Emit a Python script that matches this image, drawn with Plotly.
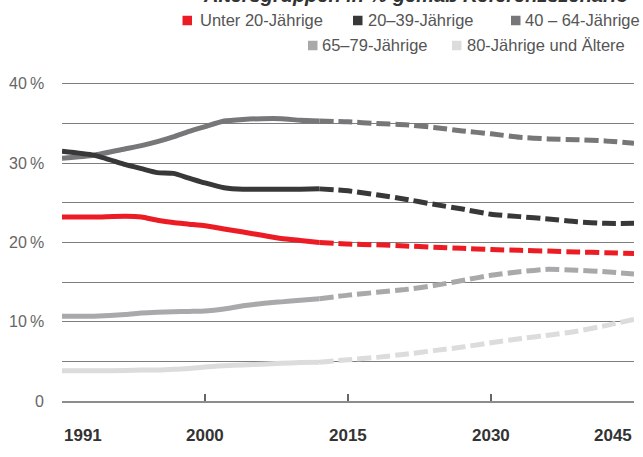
import numpy as np
import plotly.graph_objects as go

# ---- data -------------------------------------------------------------
tick_years = [1991, 2000, 2015, 2030, 2045]
tick_labels = ["1991", "2000", "2015", "2030", "2045"]

hist_years = [1991, 1993, 1995, 1996, 1997, 1998, 1999, 2000, 2002, 2004, 2006, 2008, 2010, 2012]
under20_hist = [23.2, 23.2, 23.3, 23.2, 22.8, 22.5, 22.3, 22.1, 21.7, 21.3, 20.9, 20.5, 20.25, 20.0]
age20_39_hist = [31.5, 31.0, 29.8, 29.3, 28.8, 28.7, 28.1, 27.5, 26.9, 26.7, 26.7, 26.7, 26.7, 26.75]
age40_64_hist = [30.6, 31.0, 31.8, 32.2, 32.7, 33.3, 34.0, 34.6, 35.3, 35.5, 35.6, 35.6, 35.4, 35.3]
age65_79_hist = [10.7, 10.7, 10.9, 11.1, 11.2, 11.25, 11.3, 11.35, 11.6, 12.0, 12.3, 12.5, 12.7, 12.9]
age80_hist = [3.8, 3.8, 3.85, 3.9, 3.9, 4.0, 4.1, 4.3, 4.45, 4.55, 4.65, 4.75, 4.85, 4.9]

proj_years = [2012, 2015, 2018, 2021, 2024, 2027, 2030, 2033, 2036, 2039, 2042, 2045]
under20_proj = [20.0, 19.8, 19.7, 19.55, 19.4, 19.25, 19.1, 19.0, 18.9, 18.8, 18.7, 18.6]
age20_39_proj = [26.75, 26.5, 26.0, 25.45, 24.8, 24.2, 23.55, 23.25, 22.95, 22.6, 22.4, 22.4]
age40_64_proj = [35.3, 35.2, 35.0, 34.85, 34.5, 34.05, 33.7, 33.25, 33.05, 32.95, 32.8, 32.5]
age65_79_proj = [12.9, 13.35, 13.7, 14.05, 14.55, 15.2, 15.85, 16.3, 16.6, 16.5, 16.3, 16.0]
age80_proj = [4.9, 5.2, 5.5, 5.9, 6.35, 6.8, 7.35, 7.85, 8.3, 8.8, 9.5, 10.3]

series_names = ["80-Jährige und Ältere", "65–79-Jährige", "40 – 64-Jährige",
                "20–39-Jährige", "Unter 20-Jährige"]
series_hist = [age80_hist, age65_79_hist, age40_64_hist, age20_39_hist, under20_hist]
series_proj = [age80_proj, age65_79_proj, age40_64_proj, age20_39_proj, under20_proj]
series_colors = ["#dcdcdc", "#a9a9ab", "#777779", "#383838", "#ec1c24"]

y_labels = {0: "0", 10: "10\u202f%", 20: "20\u202f%", 30: "30\u202f%", 40: "40\u202f%"}

# ---- layout geometry ----------------------------------------------------
W, H = 643, 457
ML, MR, MT, MB = 62, 9, 70, 56
PW, PH = W - ML - MR, H - MT - MB
Y_TOP = 41.74  # value at the top edge of the plot area

FONT = "Liberation Sans, Arial, sans-serif"


def px_x(px):
    return (px - ML) / PW


def px_y(py):
    return (H - MB - py) / PH


# The time axis gives every labelled interval the same width,
# so years are placed piecewise-linearly between the labelled ticks.
tick_pos = list(range(len(tick_years)))


def axis_pos(years):
    return np.interp(years, tick_years, tick_pos)


fig = go.Figure()

for name, hist, proj, color in zip(series_names, series_hist, series_proj, series_colors):
    fig.add_trace(go.Scatter(
        x=axis_pos(hist_years), y=hist, mode="lines", name=name,
        line=dict(color=color, width=5, shape="spline", smoothing=0.5),
        showlegend=False, hoverinfo="skip"))
    fig.add_trace(go.Scatter(
        x=axis_pos(proj_years), y=proj, mode="lines", name=name,
        line=dict(color=color, width=5, dash="14px,5px", shape="spline", smoothing=0.5),
        showlegend=False, hoverinfo="skip"))

annotations = []
shapes = []

# y-axis labels
for v, txt in y_labels.items():
    annotations.append(dict(
        x=px_x(46), xref="paper", y=v, yref="y", text=txt, showarrow=False,
        xanchor="right", yanchor="middle",
        font=dict(family=FONT, size=16, color="#666666")))

# x-axis labels: first left-aligned, last right-aligned, others centred
for i, (yr, lab) in enumerate(zip(tick_years, tick_labels)):
    anchor = "left" if i == 0 else ("right" if i == len(tick_years) - 1 else "center")
    annotations.append(dict(
        x=float(axis_pos(yr)), xref="x", y=px_y(435), yref="paper", text=f"<b>{lab}</b>",
        showarrow=False, xanchor=anchor, yanchor="middle",
        font=dict(family=FONT, size=17, color="#333333")))

# title (runs past the top edge of the page)
annotations.append(dict(
    x=px_x(631), xref="paper", y=px_y(8), yref="paper",
    text="<b><i>Altersgruppen in % gemäß Referenzszenario</i></b>",
    showarrow=False, xanchor="right", yanchor="bottom",
    font=dict(family=FONT, size=20, color="#333333")))

# legend: coloured squares with labels, two rows
legend_items = [
    ("Unter 20-Jährige", "#ec1c24", 182.5, 198, 20.5),
    ("20–39-Jährige", "#383838", 353, 366, 20.5),
    ("40 – 64-Jährige", "#777779", 511, 523, 20.5),
    ("65–79-Jährige", "#a9a9ab", 308, 320, 45.5),
    ("80-Jährige und Ältere", "#dcdcdc", 452, 465, 45.5),
]
for label, color, sq_x, tx_x, cy in legend_items:
    shapes.append(dict(
        type="rect", xref="paper", yref="paper",
        x0=px_x(sq_x), x1=px_x(sq_x + 9.5), y0=px_y(cy + 4.75), y1=px_y(cy - 4.75),
        fillcolor=color, line=dict(width=0), layer="above"))
    annotations.append(dict(
        x=px_x(tx_x), xref="paper", y=px_y(cy), yref="paper", text=label,
        showarrow=False, xanchor="left", yanchor="middle",
        font=dict(family=FONT, size=16.5, color="#555555")))

fig.update_layout(
    width=W, height=H,
    margin=dict(l=ML, r=MR, t=MT, b=MB, pad=0),
    paper_bgcolor="white", plot_bgcolor="white",
    showlegend=False,
    annotations=annotations,
    shapes=shapes,
    xaxis=dict(
        range=[0, len(tick_years) - 1], tickvals=tick_pos, showticklabels=False,
        ticks="inside", ticklen=7, tickwidth=1.5, tickcolor="#666666",
        showgrid=False, zeroline=False,
        showline=True, linecolor="#8c8c8c", linewidth=2, fixedrange=True),
    yaxis=dict(
        range=[0, Y_TOP], tickvals=[5, 10, 15, 20, 25, 30, 35, 40],
        showticklabels=False, ticks="",
        showgrid=True, gridcolor="#7d7d7d", gridwidth=1,
        zeroline=False, showline=False, fixedrange=True),
)

fig.write_html("out.html")
